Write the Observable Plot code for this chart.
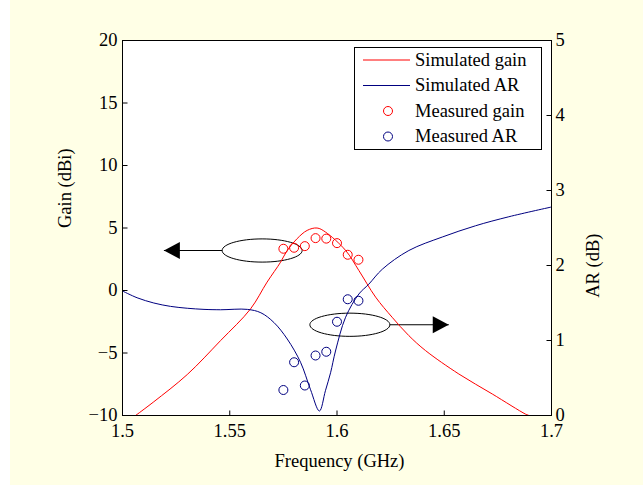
<!DOCTYPE html>
<html>
<head>
<meta charset="utf-8">
<script src="https://cdn.jsdelivr.net/npm/d3@7"></script>
<script src="https://cdn.jsdelivr.net/npm/@observablehq/plot@0.6"></script>
<style>
  html, body { margin: 0; padding: 0; background: #ffffff; }
  #wrap { position: relative; width: 643px; height: 486px; }
  #bg { position: absolute; left: 10px; top: 0; width: 633px; height: 485px; background: #ffffe6; }
</style>
</head>
<body>
<div id="wrap"><div id="bg"></div></div>
<script>
// ---------- data ----------
const freqTicks = [1.5, 1.55, 1.6, 1.65, 1.7];
const gainTicks = [-10, -5, 0, 5, 10, 15, 20];
const arTicks = [0, 1, 2, 3, 4, 5];

const simGainFreq = [1.5061, 1.5146, 1.5302, 1.5457, 1.5597, 1.5674, 1.5737, 1.5768, 1.5814, 1.5861, 1.5907, 1.5946, 1.604, 1.6102, 1.618, 1.6257, 1.6335, 1.6413, 1.6568, 1.6724, 1.6879, 1.6895];
const simGainVal  = [-10, -8.9, -6.72, -4.01, -1.47, 0.67, 2.27, 3.21, 4.15, 4.81, 5.0, 4.68, 3.21, 1.6, -0.53, -2.14, -3.61, -4.81, -6.68, -8.28, -9.89, -10];

const simArFreq = [1.5, 1.5068, 1.5146, 1.5224, 1.5302, 1.538, 1.5457, 1.5582, 1.5645, 1.5706, 1.5768, 1.583, 1.5876, 1.5918, 1.5946, 1.597, 1.5993, 1.604, 1.6102, 1.6148, 1.6211, 1.6335, 1.6491, 1.6646, 1.6801, 1.7];
const simArVal  = [1.66, 1.57, 1.50, 1.455, 1.43, 1.415, 1.41, 1.415, 1.37, 1.24, 1.02, 0.71, 0.35, 0.06, 0.33, 0.57, 0.86, 1.31, 1.62, 1.75, 1.95, 2.2, 2.38, 2.53, 2.65, 2.78];

const measFreq = [1.575, 1.58, 1.585, 1.59, 1.595, 1.6, 1.605, 1.61];
const measGain = [3.34, 3.42, 3.55, 4.19, 4.15, 3.79, 2.86, 2.46];
const measAR   = [0.34, 0.71, 0.40, 0.80, 0.85, 1.25, 1.55, 1.53];

// annotation ellipses and arrows (data units)
const ellipseFreq = [1.5651, 1.606];
const ellipseGain = [3.2, -2.74];
const arrowStartFreq = [1.5465, 1.6246];
const arrowTipFreq = [1.5193, 1.6521];
const arrowGain = [3.2, -2.74];

const seriesLabels = ["Simulated gain", "Simulated AR", "Measured gain", "Measured AR"];
const xLabel = "Frequency (GHz)";
const yLabel = "Gain (dBi)";
const y2Label = "AR (dB)";

// ---------- helpers ----------
const gainDomain = [-10, 20];
const arDomain = [0, 5];
const arToGain = a => gainDomain[0] + (a - arDomain[0]) * (gainDomain[1] - gainDomain[0]) / (arDomain[1] - arDomain[0]);
const gainToAr = g => arDomain[0] + (g - gainDomain[0]) * (arDomain[1] - arDomain[0]) / (gainDomain[1] - gainDomain[0]);

const RED = "#ff0000";
const BLUE = "#000080";
const FONT = "'Liberation Serif', 'Times New Roman', serif";
const FS = "18.5px";

const simGain = simGainFreq.map((f, i) => ({f, g: simGainVal[i]}));
const simAr = simArFreq.map((f, i) => ({f, g: arToGain(simArVal[i])}));
const mGain = measFreq.map((f, i) => ({f, g: measGain[i]}));
const mAr = measFreq.map((f, i) => ({f, g: arToGain(measAR[i])}));
const ellipses = ellipseFreq.map((f, i) => ({f, g: ellipseGain[i]}));
const arrows = arrowStartFreq.map((f, i) => ({f1: f, f2: arrowTipFreq[i], g: arrowGain[i]}));

// custom symbols
const ellipseSym = {draw(c) {
  const a = 40, b = 11.6, k = 0.5523;
  c.moveTo(a, 0);
  c.bezierCurveTo(a, b * k, a * k, b, 0, b);
  c.bezierCurveTo(-a * k, b, -a, b * k, -a, 0);
  c.bezierCurveTo(-a, -b * k, -a * k, -b, 0, -b);
  c.bezierCurveTo(a * k, -b, a, -b * k, a, 0);
  c.closePath();
}};
const triLeft = {draw(c) { c.moveTo(0, 0); c.lineTo(16, -8.5); c.lineTo(16, 8.5); c.closePath(); }};
const triRight = {draw(c) { c.moveTo(0, 0); c.lineTo(-16, -8.5); c.lineTo(-16, 8.5); c.closePath(); }};
const tickInR = {draw(c) { c.moveTo(0, 0); c.lineTo(5, 0); }};
const tickInL = {draw(c) { c.moveTo(0, 0); c.lineTo(-5, 0); }};
const tickUp = {draw(c) { c.moveTo(0, 0); c.lineTo(0, -5); }};

const plot = Plot.plot({
  width: 643,
  height: 486,
  marginLeft: 122,
  marginRight: 92,
  marginTop: 40,
  marginBottom: 71,
  style: {
    background: "transparent",
    fontFamily: FONT,
    fontSize: FS,
    color: "#000",
    position: "absolute",
    left: "0px",
    top: "0px",
    overflow: "visible"
  },
  x: {domain: [1.5, 1.7], label: null},
  y: {domain: gainDomain, label: null},
  marks: [
    Plot.frame({fill: "white", stroke: "none"}),
    // annotations
    Plot.dot(ellipses, {x: "f", y: "g", symbol: ellipseSym, r: 3, stroke: "black", strokeWidth: 1, fill: "none"}),
    Plot.link(arrows, {x1: "f1", x2: "f2", y1: "g", y2: "g", stroke: "black", strokeWidth: 1.2}),
    Plot.dot(arrows.slice(0, 1), {x: "f2", y: "g", symbol: triLeft, r: 3, fill: "black", stroke: "none"}),
    Plot.dot(arrows.slice(1, 2), {x: "f2", y: "g", symbol: triRight, r: 3, fill: "black", stroke: "none"}),
    // series
    Plot.line(simGain, {x: "f", y: "g", stroke: RED, strokeWidth: 1, curve: "catmull-rom", clip: true}),
    Plot.line(simAr, {x: "f", y: "g", stroke: BLUE, strokeWidth: 1, curve: "catmull-rom", clip: true}),
    Plot.dot(mGain, {x: "f", y: "g", r: 4.5, stroke: RED, strokeWidth: 1, fill: "none"}),
    Plot.dot(mAr, {x: "f", y: "g", r: 4.5, stroke: BLUE, strokeWidth: 1, fill: "none"}),
    // inward tick marks
    Plot.dot(gainTicks, {x: () => 1.5, y: d => d, symbol: tickInR, r: 3, stroke: "black", strokeWidth: 1}),
    Plot.dot(arTicks, {x: () => 1.7, y: d => arToGain(d), symbol: tickInL, r: 3, stroke: "black", strokeWidth: 1}),
    Plot.dot(freqTicks, {x: d => d, y: () => -10, symbol: tickUp, r: 3, stroke: "black", strokeWidth: 1}),
    // axis labels
    Plot.axisX(freqTicks, {anchor: "bottom", tickSize: 0, tickPadding: 8, label: null, tickFormat: d => String(d)}),
    Plot.axisY(gainTicks, {anchor: "left", tickSize: 0, tickPadding: 5, label: null}),
    Plot.axisY(arTicks.map(arToGain), {anchor: "right", tickSize: 0, tickPadding: 4, label: null, tickFormat: g => String(Math.round(gainToAr(g)))}),
    Plot.frame({stroke: "black", strokeWidth: 1}),
    // axis titles
    Plot.text([xLabel], {frameAnchor: "bottom", dx: 2.5, dy: 51, text: d => d}),
    Plot.text([yLabel], {frameAnchor: "left", dx: -57, rotate: -90, text: d => d}),
    Plot.text([y2Label], {frameAnchor: "right", dx: 42, dy: 5.5, rotate: -90, text: d => d})
  ]
});

document.getElementById("wrap").appendChild(plot);

// ---------- legend ----------
const svg = d3.select(plot);
const lg = svg.append("g")
  .attr("font-family", FONT)
  .attr("font-size", FS)
  .attr("text-anchor", "start");
lg.append("rect").attr("x", 354.5).attr("y", 47.5).attr("width", 187).attr("height", 102)
  .attr("fill", "white").attr("stroke", "black").attr("stroke-width", 1);
const rowY = [60, 85.5, 111, 136.5];
const rowColor = [RED, BLUE, RED, BLUE];
const rowType = ["line", "line", "dot", "dot"];
seriesLabels.forEach((lab, i) => {
  if (rowType[i] === "line") {
    lg.append("line").attr("x1", 363).attr("x2", 410).attr("y1", rowY[i]).attr("y2", rowY[i])
      .attr("stroke", rowColor[i]).attr("stroke-width", 1);
  } else {
    lg.append("circle").attr("cx", 388).attr("cy", rowY[i]).attr("r", 4.5)
      .attr("fill", "none").attr("stroke", rowColor[i]).attr("stroke-width", 1);
  }
  lg.append("text").attr("x", 415).attr("y", rowY[i]).attr("dy", "0.32em")
    .style("text-anchor", "start").attr("fill", "black").text(lab);
});
</script>
</body>
</html>
